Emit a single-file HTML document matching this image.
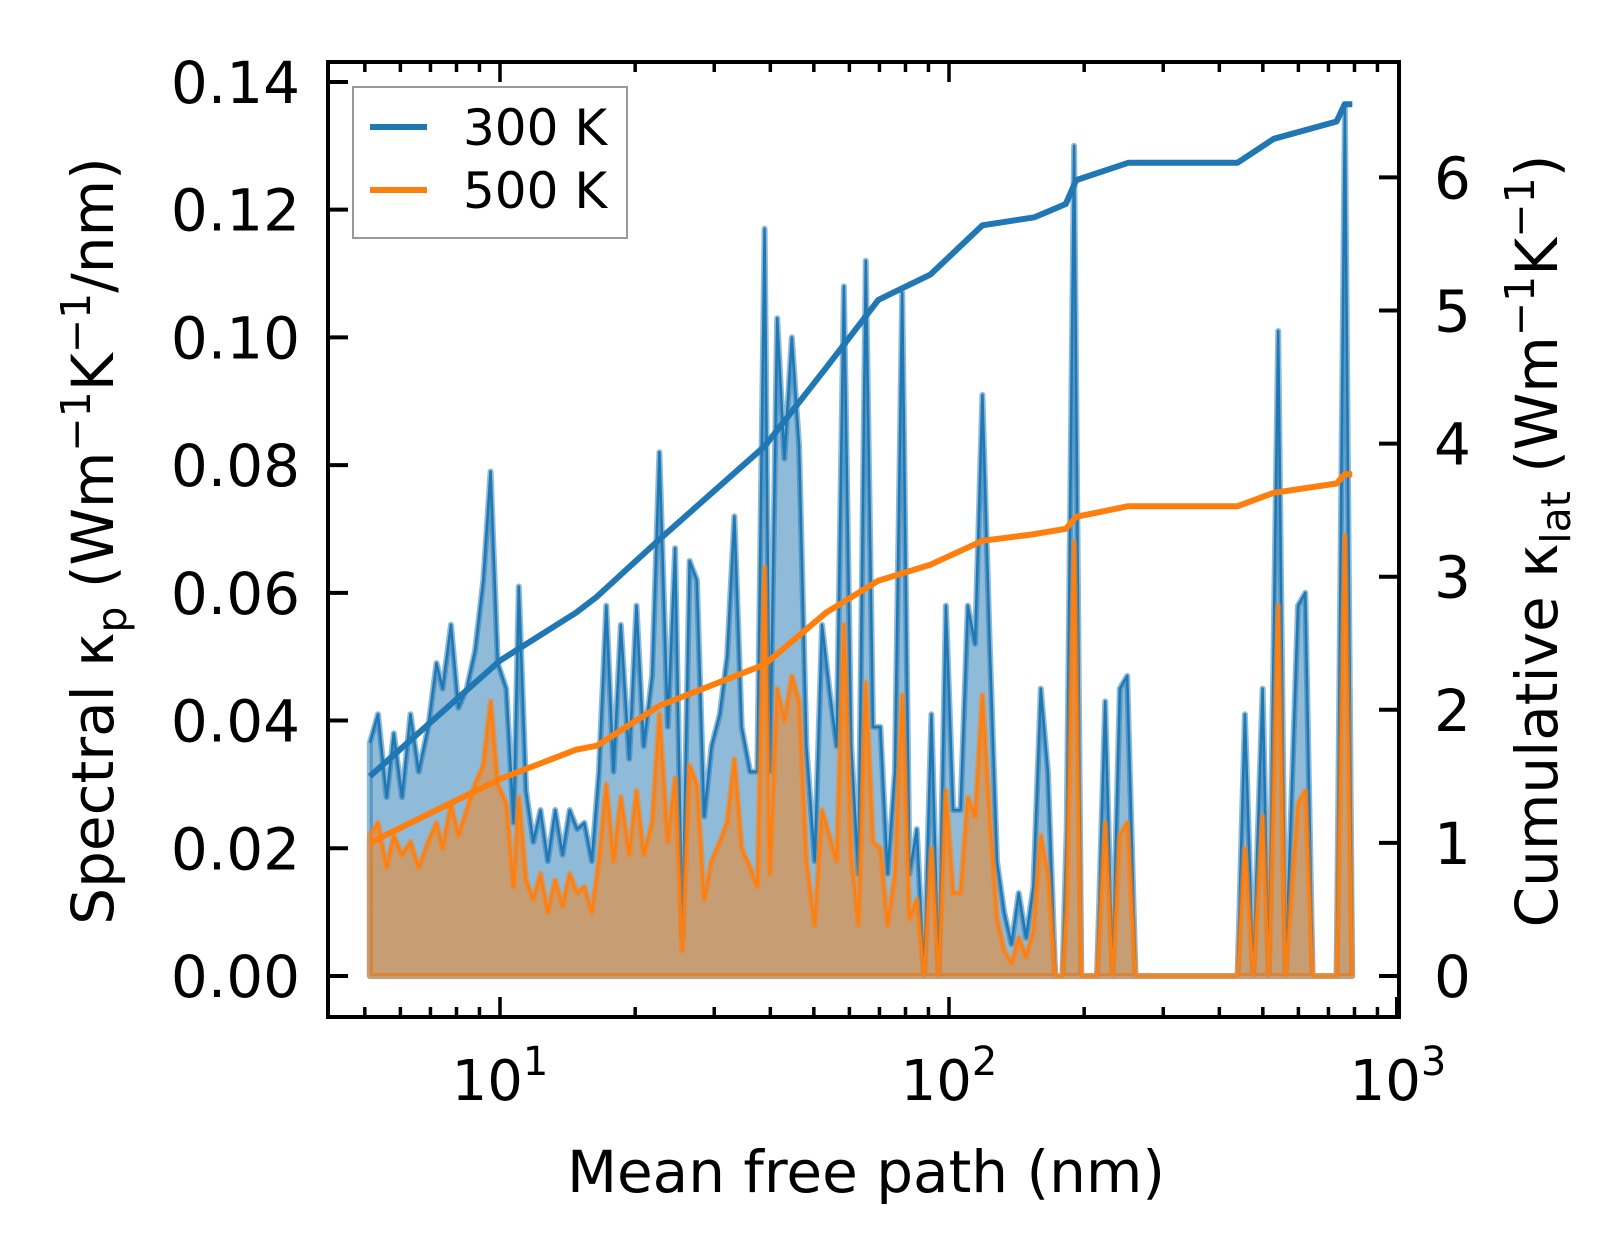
<!DOCTYPE html>
<html><head><meta charset="utf-8"><style>
html,body{margin:0;padding:0;background:#fff;}
svg{display:block;font-family:"DejaVu Sans","Liberation Sans",sans-serif;}
</style></head><body>
<svg id="chart" width="1623" height="1256" viewBox="0 0 1623 1256" xmlns="http://www.w3.org/2000/svg">
<g id="plot"></g>
<g id="axes"></g>
</svg>
<script>
const mfp = [5.13,5.35,5.59,5.80,6.05,6.32,6.59,6.92,7.22,7.45,
7.78,8.08,8.43,8.80,9.18,9.53,9.89,10.33,10.72,11.01,
11.43,11.86,12.31,12.78,13.27,13.78,14.30,14.85,15.42,16.01,
16.61,17.25,17.90,18.58,19.40,20.14,20.90,21.82,22.65,23.64,
24.54,25.47,26.44,27.45,28.50,29.58,30.87,32.05,33.27,34.54,
36.05,37.42,38.85,39.90,41.43,43.00,44.65,46.35,48.12,50.22,
52.13,54.12,56.18,58.33,60.55,62.85,65.26,67.74,70.33,73.00,
75.79,78.68,81.66,84.79,88.02,91.36,94.8,98.4,102.2,106.1,
110.1,114.3,118.7,123.2,127.9,132.7,137.8,143.0,148.5,154.2,
160.1,166.1,172.5,179.0,182.9,189.9,197.1,213.6,222.8,231.3,
240.1,249.4,260.2,439.3,456.1,475.9,499.3,515.6,541.0,561.6,
598.9,621.7,645.4,729.7,761.5,790.7];
const spec300 = [.0365,.041,.028,.038,.028,.041,.032,.039,.049,.045,
.055,.042,.045,.051,.062,.079,.049,.045,.024,.061,
.029,.021,.026,.018,.026,.019,.026,.023,.024,.018,
.032,.058,.032,.055,.034,.058,.036,.047,.082,.039,
.067,.006,.065,.062,.025,.036,.041,.050,.072,.039,
.032,.032,.117,.032,.103,.081,.100,.083,.036,.018,
.055,.045,.036,.108,.036,.016,.112,.039,.039,.016,
.032,.107,.016,.023,0,.041,0,.058,.026,.026,
.058,.052,.091,.052,.018,.010,.005,.013,.006,.014,
.045,.032,0,0,.023,.130,0,0,.043,0,
.045,.047,0,0,.041,0,.045,0,.101,0,
.058,.060,0,0,.136,0];
const spec500 = [.022,.024,.017,.022,.019,.021,.017,.021,.024,.020,
.027,.022,.026,.030,.033,.043,.030,.027,.014,.028,
.015,.012,.016,.010,.015,.011,.016,.013,.014,.010,
.018,.030,.018,.028,.019,.029,.019,.024,.041,.021,
.031,.004,.033,.030,.012,.018,.021,.024,.034,.020,
.017,.014,.064,.016,.045,.040,.047,.043,.018,.008,
.026,.022,.018,.055,.019,.008,.046,.021,.020,.008,
.016,.044,.009,.012,0,.020,0,.029,.013,.013,
.028,.025,.044,.025,.009,.004,.002,.006,.003,.007,
.022,.016,0,0,.011,.068,0,0,.024,0,
.022,.024,0,0,.020,0,.025,0,.058,0,
.027,.029,0,0,.069,0];
const cumMfp = [5.13,10,14.77,16.44,22.65,38.85,53.26,69.6,90.9,118.7,155,182,192,250.7,439,529,730,761,791];
const cum300 = [1.5,2.37,2.73,2.85,3.28,3.98,4.57,5.08,5.27,5.64,5.7,5.8,5.98,6.11,6.11,6.29,6.42,6.55,6.55];
const cum500 = [1.0,1.48,1.70,1.73,2.03,2.34,2.73,2.97,3.09,3.27,3.32,3.36,3.45,3.53,3.53,3.63,3.70,3.77,3.77];
const leftTicks = [0,0.02,0.04,0.06,0.08,0.10,0.12,0.14];
const leftTickLabels = ["0.00","0.02","0.04","0.06","0.08","0.10","0.12","0.14"];
const rightTicks = [0,1,2,3,4,5,6];
const xDecades = [1,2,3];

const NS="http://www.w3.org/2000/svg";
const X0=328,X1=1399,Y0=62,Y1=1017;
function xs(v){return 500+449*(Math.log10(v)-1);}
function yl(v){return 976-v*6386;}
function yr(v){return 976-v*133.1;}
function mk(tag,attrs,parent){const e=document.createElementNS(NS,tag);for(const k in attrs)e.setAttribute(k,attrs[k]);parent.appendChild(e);return e;}
const plot=document.getElementById('plot'), axes=document.getElementById('axes');

function area(vals,color,name){
  let d=`M${xs(mfp[0])},${yl(0)}`;
  mfp.forEach((m,i)=>{d+=` L${xs(m).toFixed(1)},${yl(vals[i]).toFixed(1)}`;});
  d+=` L${xs(mfp[mfp.length-1])},${yl(0)} Z`;
  const p=mk('path',{d:d,fill:color,'fill-opacity':0.5,stroke:color,'stroke-opacity':0.5,'stroke-width':6,'stroke-linejoin':'round'},plot);
  
  
}
function line(xv,vals,yf,color,w,name,op){
  const pts=xv.map((m,i)=>xs(m).toFixed(1)+','+yf(vals[i]).toFixed(1)).join(' ');
  const p=mk('polyline',{points:pts,fill:'none',stroke:color,'stroke-width':w,'stroke-linejoin':'round','stroke-opacity':op},plot);
  
  
}
area(spec300,'#1f77b4','spectral-300k-area');
line(mfp,spec300,yl,'#1f77b4',2.5,'spectral-300k-line',1);
area(spec500,'#ff7f0e','spectral-500k-area');
line(mfp,spec500,yl,'#ff7f0e',2.5,'spectral-500k-line',1);
line(cumMfp,cum300,yr,'#1f77b4',6,'cumulative-300k-line',1);
line(cumMfp,cum500,yr,'#ff7f0e',6,'cumulative-500k-line',1);

const fr=mk('rect',{x:X0,y:Y0,width:X1-X0,height:Y1-Y0,fill:'none',stroke:'#000','stroke-width':4},axes);



function txt(s,x,y,anchor,name,size){
  const t=mk('text',{x:x,y:y,'text-anchor':anchor,'font-size':size||50,fill:'#000'},axes);
  t.textContent=s;
  
  
  return t;
}
leftTicks.forEach((v,i)=>{
  const y=yl(v);
  mk('line',{x1:X0,x2:X0+20,y1:y,y2:y,stroke:'#000','stroke-width':4},axes);
  txt(leftTickLabels[i],300,y+21,'end','left-tick-label',58);
});
rightTicks.forEach(v=>{
  const y=yr(v);
  mk('line',{x1:X1-20,x2:X1,y1:y,y2:y,stroke:'#000','stroke-width':4},axes);
  txt(String(v),1434,y+21,'start','right-tick-label',58);
});
for(let dec=0;dec<=2;dec++){
  for(let k=1;k<=9;k++){
    const v=k*Math.pow(10,dec); const x=xs(v);
    if(x<X0+2||x>X1+2) continue;
    const L=(k===1)?20:10;
    mk('line',{x1:x,x2:x,y1:Y1,y2:Y1-L,stroke:'#000','stroke-width':3.5},axes);
    mk('line',{x1:x,x2:x,y1:Y0,y2:Y0+L,stroke:'#000','stroke-width':3.5},axes);
  }
}
mk('line',{x1:X1-2,x2:X1-2,y1:Y1,y2:Y1-20,stroke:'#000','stroke-width':4},axes);
xDecades.forEach(d=>{
  const x=xs(Math.pow(10,d));
  const t=txt('',x,1100,'middle','x-tick-label',56);
  const a=document.createElementNS(NS,'tspan');a.textContent='10';t.appendChild(a);
  const b=document.createElementNS(NS,'tspan');b.textContent=String(d);b.setAttribute('dy','-25');b.setAttribute('font-size','40');t.appendChild(b);
});
txt('Mean free path (nm)',866,1192,'middle','x-axis-title',58);
</script>
<svg style="position:absolute;left:0;top:0" width="1623" height="1256" xmlns="http://www.w3.org/2000/svg" font-family="DejaVu Sans, Liberation Sans, sans-serif">
<text transform="translate(113,541) rotate(-90)" text-anchor="middle" font-size="58">Spectral κ<tspan font-size="41" dy="13">p</tspan><tspan dy="-13"> (Wm</tspan><tspan font-size="41" dy="-23">−1</tspan><tspan dy="23">K</tspan><tspan font-size="41" dy="-23">−1</tspan><tspan dy="23">/nm)</tspan></text>
<text transform="translate(1557,541) rotate(-90)" text-anchor="middle" font-size="58">Cumulative κ<tspan font-size="41" dy="13">lat</tspan><tspan dy="-13"> (Wm</tspan><tspan font-size="41" dy="-23">−1</tspan><tspan dy="23">K</tspan><tspan font-size="41" dy="-23">−1</tspan><tspan dy="23">)</tspan></text>
<g>
<rect x="353" y="87" width="274" height="151" fill="#fff" fill-opacity="0.8" stroke="#999" stroke-width="2"/>
<line x1="370" x2="427" y1="127" y2="127" stroke="#1f77b4" stroke-width="6"/>
<text x="463" y="145" font-size="50">300 K</text>
<line x1="370" x2="427" y1="190" y2="190" stroke="#ff7f0e" stroke-width="6"/>
<text x="463" y="208" font-size="50">500 K</text>
</g>
</svg>
</body></html>
